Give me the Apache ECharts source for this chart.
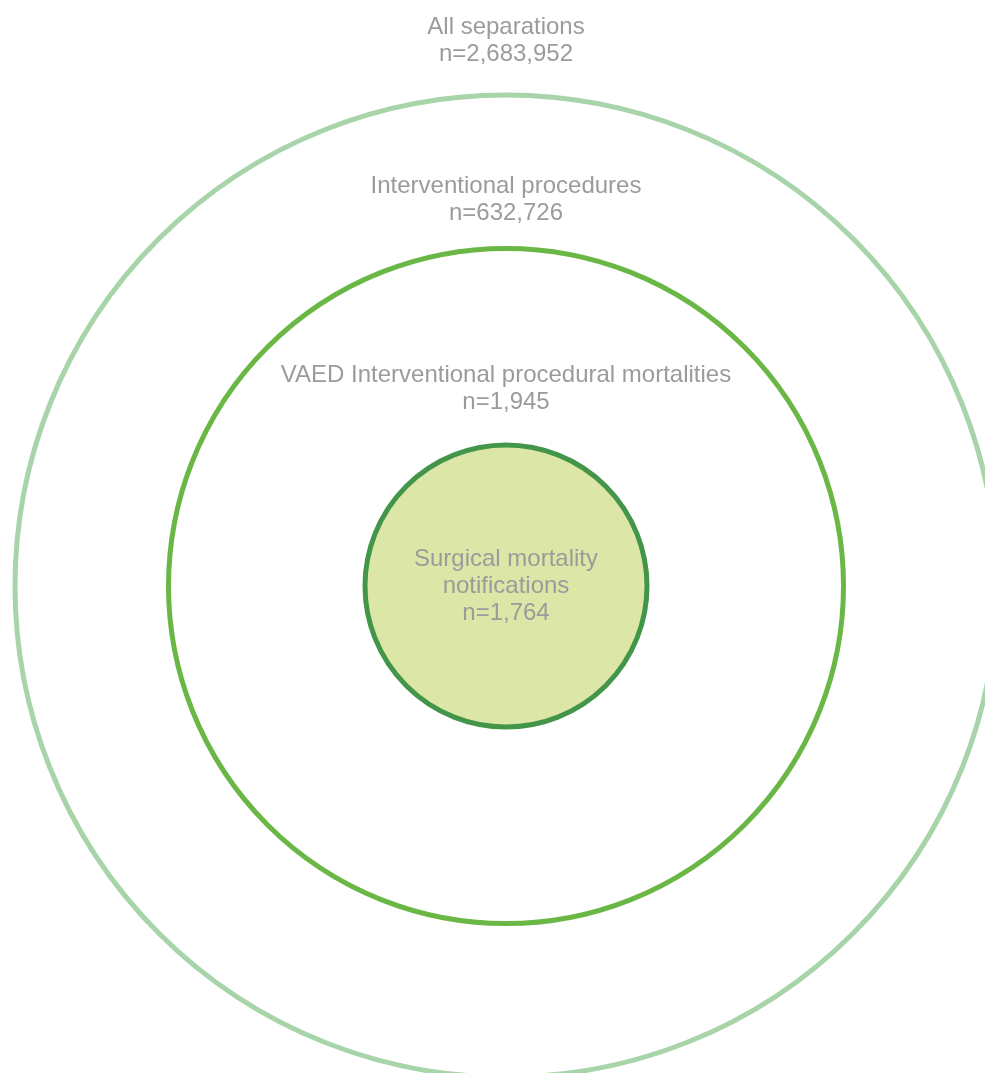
<!DOCTYPE html>
<html>
<head>
<meta charset="utf-8">
<script src="https://cdn.jsdelivr.net/npm/echarts@6/dist/echarts.min.js"></script>
<style>html,body{margin:0;padding:0;background:#fff}#c{width:985px;height:1073px}</style>
</head>
<body>
<div id="c"></div>
<script>
// Data
const setNames = ['All separations', 'Interventional procedures', 'VAED Interventional procedural mortalities', 'Surgical mortality notifications'];
const setLabelLines = [['All separations'], ['Interventional procedures'], ['VAED Interventional procedural mortalities'], ['Surgical mortality', 'notifications']];
const setCounts = [2683952, 632726, 1945, 1764];

// Layout / style (not data)
const diameters = [982, 675, 282, 282];
const strokeColors = ['#a7d4a9', '#6bb746', 'transparent', '#439549'];
const fillColors = ['transparent', 'transparent', 'transparent', '#dce6a6'];
const labelPos = ['top', 'top', 'top', 'inside'];
const labelDist = [25, 19, 27, 0];

const fmt = n => n.toLocaleString('en-US');

const series = setNames.map((name, i) => ({
  type: 'scatter',
  name: name,
  symbol: 'circle',
  symbolSize: diameters[i],
  silent: true,
  clip: false,
  z: i + 1,
  itemStyle: {
    color: fillColors[i],
    borderColor: strokeColors[i],
    borderWidth: 5,
    opacity: 1
  },
  label: {
    show: true,
    position: labelPos[i],
    distance: labelDist[i],
    formatter: () => setLabelLines[i].concat(['n=' + fmt(setCounts[i])]).join('\n'),
    color: '#9b9b9b',
    fontFamily: '"Liberation Sans", Arial, sans-serif',
    fontSize: 24,
    lineHeight: 27,
    align: 'center'
  },
  emphasis: { disabled: true },
  data: [[0, 0]]
}));

const chart = echarts.init(document.getElementById('c'), null, { renderer: 'canvas' });
chart.setOption({
  animation: false,
  backgroundColor: '#ffffff',
  grid: { left: 0, right: 0, top: 0, bottom: 0 },
  xAxis: { type: 'value', min: -506, max: 479, show: false },
  yAxis: { type: 'value', min: -487, max: 586, show: false },
  series: series
});
</script>
</body>
</html>
